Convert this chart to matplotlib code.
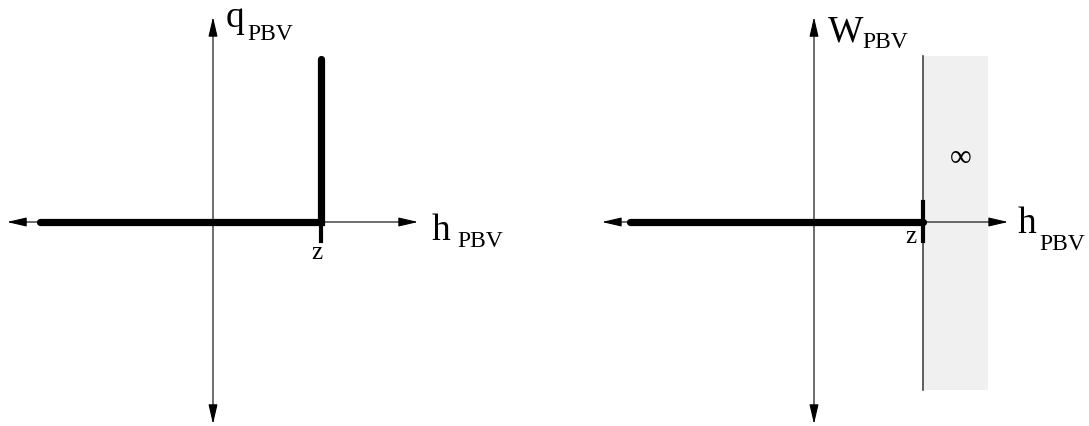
import matplotlib.pyplot as plt
from matplotlib.patches import Rectangle

plt.rcParams['font.family'] = ['Liberation Serif', 'DejaVu Serif']

# data (in units of z)
z = 1.0
# left: q_PBV as a function of h_PBV
q_h = [-1.6, z, z]
q_v = [0.0, 0.0, 1.51]
q_tick = [0.0, -0.176]
# right: W_PBV as a function of h_PBV
w_h = [-1.69, z]
w_v = [0.0, 0.0]
w_tick = [0.183, -0.174]
inf_h = [z, 1.6]          # region where W is infinite
inf_v = [-1.54, 1.52]

# axis extents (arrow tips)
left_xaxis = [-1.907, 1.898]
left_yaxis = [-1.87, 1.898]
right_xaxis = [-1.945, 1.78]
right_yaxis = [-1.853, 1.88]

fig = plt.figure(figsize=(10.89, 4.27), dpi=100)
W, H = 1089, 427


def make_ax(x0, x1, ox, oy, unit):
    ax = fig.add_axes([x0 / W, 0, (x1 - x0) / W, 1])
    ax.set_xlim((x0 - ox) / unit, (x1 - ox) / unit)
    ax.set_ylim(-(H - oy) / unit, oy / unit)
    ax.axis('off')
    return ax


def draw_axes(ax, xr, yr):
    st = dict(arrowstyle='<|-|>,head_length=1.2,head_width=0.28', lw=0.8,
              color='black', shrinkA=0, shrinkB=0, mutation_scale=10)
    ax.annotate('', xy=(xr[1], 0), xytext=(xr[0], 0), arrowprops=st, zorder=3)
    ax.annotate('', xy=(0, yr[1]), xytext=(0, yr[0]), arrowprops=st, zorder=3)


# ---- left panel
ax1 = make_ax(0, 545, 213, 223, 108)
draw_axes(ax1, left_xaxis, left_yaxis)
ax1.plot(q_h, q_v, color='black', lw=5.2, solid_capstyle='round',
         solid_joinstyle='miter', zorder=4)
ax1.plot([z, z], q_tick, color='black', lw=3, zorder=4)
ax1.text(0.12, 1.815, 'q', fontsize=27, ha='left', va='baseline')
ax1.text(0.32, 1.694, 'PBV', fontsize=17, ha='left', va='baseline')
ax1.text(2.02, -0.157, 'h', fontsize=27, ha='left', va='baseline')
ax1.text(2.26, -0.222, 'PBV', fontsize=17, ha='left', va='baseline')
ax1.text(0.963, -0.333, 'z', fontsize=18, ha='center', va='baseline')

# ---- right panel
ax2 = make_ax(545, 1089, 814, 223, 109)
ax2.add_patch(Rectangle((inf_h[0], inf_v[0]), inf_h[1] - inf_h[0],
                        inf_v[1] - inf_v[0], facecolor='#f0f0f0',
                        edgecolor='none', zorder=1))
ax2.plot([inf_h[0], inf_h[0]], inf_v, color='#444444', lw=1.2, zorder=2)
draw_axes(ax2, right_xaxis, right_yaxis)
ax2.plot(w_h, w_v, color='black', lw=5.2, solid_capstyle='round', zorder=4)
ax2.plot([z, z], w_tick, color='black', lw=3, zorder=4)
ax2.text(0.13, 1.661, 'W', fontsize=27, ha='left', va='baseline')
ax2.text(0.44, 1.606, 'PBV', fontsize=17, ha='left', va='baseline')
ax2.text(1.87, -0.092, 'h', fontsize=27, ha='left', va='baseline')
ax2.text(2.07, -0.245, 'PBV', fontsize=17, ha='left', va='baseline')
ax2.text(0.89, -0.183, 'z', fontsize=18, ha='center', va='baseline')
ax2.text(1.349, 0.596, '∞', fontsize=22, ha='center', va='center')

fig.savefig('out.png', dpi=100)
